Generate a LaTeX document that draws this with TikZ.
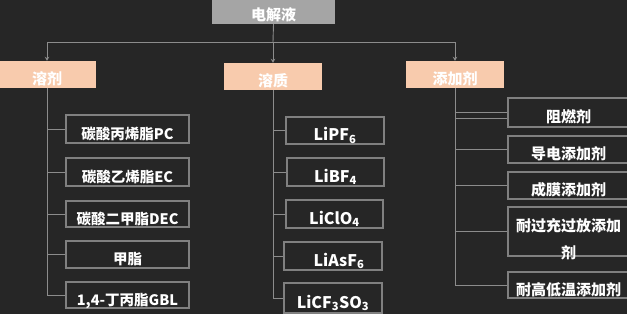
\documentclass[tikz,border=0pt]{standalone}
\usepackage{fontspec}
\setmainfont{Noto Sans CJK SC}
\usetikzlibrary{arrows.meta,calc}
\definecolor{bgc}{HTML}{262626}
\definecolor{lnc}{HTML}{8C8C8C}
\definecolor{bdc}{HTML}{808080}
\definecolor{peach}{HTML}{F8CBAD}
\definecolor{topc}{HTML}{A5A5A5}
\begin{document}
\begin{tikzpicture}[x=1pt,y=-1pt,
  base/.style={inner sep=0pt, text=white, font=\bfseries\fontsize{15}{18}\selectfont, text height=22pt, text depth=2pt},
  topbox/.style={base, fill=topc},
  catbox/.style={base, fill=peach, minimum width=98pt, minimum height=27pt},
  leaf/.style={base, draw=bdc, line width=1.1pt, fill=bgc},
  lleaf/.style={leaf, minimum width=123pt, font=\bfseries\fontsize{14.5}{18}\selectfont},
  mleaf/.style={leaf, font=\bfseries\fontsize{16}{18}\selectfont},
  rleaf/.style={leaf, minimum width=121pt},
  conn/.style={draw=lnc, line width=0.9pt},
  arr/.style={conn, -{Stealth[length=4pt,width=4.5pt]}}
]
\useasboundingbox (0,0) rectangle (627,314);
\fill[bgc] (0,0) rectangle (627,314);
\clip (0,0) rectangle (627,314);

% top
\node[topbox, minimum width=123pt, minimum height=28pt] (top) at (273.5,10) {电解液};

% level 1
\node[catbox] (solv) at (47,74.5) {溶剂};
\node[catbox] (solu) at (273,76.5) {溶质};
\node[catbox] (addi) at (455,74.5) {添加剂};

% left leaves
\node[lleaf, minimum height=28pt] (a1) at (127.5,129) {碳酸丙烯脂PC};
\node[lleaf, minimum height=28pt] (a2) at (127.5,172) {碳酸乙烯脂EC};
\node[lleaf, minimum height=26pt] (a3) at (127.5,214) {碳酸二甲脂DEC};
\node[lleaf, minimum height=27pt] (a4) at (127.5,254.5) {甲脂};
\node[lleaf, minimum height=26pt] (a5) at (127.5,295) {1,4-丁丙脂GBL};

% middle leaves
\node[mleaf, minimum width=98pt, minimum height=27pt] (b1) at (335,130.5) {LiPF\textsubscript{6}};
\node[mleaf, minimum width=97pt, minimum height=28pt] (b2) at (335.5,172) {LiBF\textsubscript{4}};
\node[mleaf, minimum width=97pt, minimum height=28pt] (b3) at (334.5,214) {LiClO\textsubscript{4}};
\node[mleaf, minimum width=98pt, minimum height=28pt] (b4) at (333,256) {\hspace{12pt}LiAsF\textsubscript{6}};
\node[mleaf, minimum width=98pt, minimum height=30pt] (b5) at (333,298) {LiCF\textsubscript{3}SO\textsubscript{3}};

% right leaves
\node[rleaf, minimum height=29pt] (c1) at (568.5,112.5) {阻燃剂};
\node[rleaf, minimum height=27pt] (c2) at (568.5,149.5) {导电添加剂};
\node[rleaf, minimum height=27pt] (c3) at (568.5,185.5) {成膜添加剂};
\node[rleaf, minimum height=49pt, font=\bfseries\fontsize{15}{27}\selectfont, text height=10.2pt, text depth=9.8pt] (c4) at (568.5,231.5)
  {\vtop{\hbox to 0pt{\hss 耐过充过放添加\hss}\hbox to 0pt{\hss 剂\hss}}};
\node[rleaf, minimum height=26pt] (c5) at (568.5,285) {耐高低温添加剂};

% connectors
\coordinate (j) at (273,42);
\draw[conn] (top.south) -- (j);
\draw[arr] (j) -| (solv.north);
\draw[arr] (j) -- (solu.north);
\draw[arr] (j) -| (addi.north);

\foreach \n in {a1,a2,a3,a4,a5} \draw[conn] (solv.south) |- (\n.west);
\foreach \n in {b1,b2,b3,b4,b5} \draw[conn] (solu.south) |- (\n.west);
\foreach \n in {c1,c2,c3,c4,c5} \draw[conn] (addi.south) |- (\n.west);
\draw[conn] ([yshift=-5.5pt]c1.west) -| (addi.south);
\end{tikzpicture}
\end{document}
